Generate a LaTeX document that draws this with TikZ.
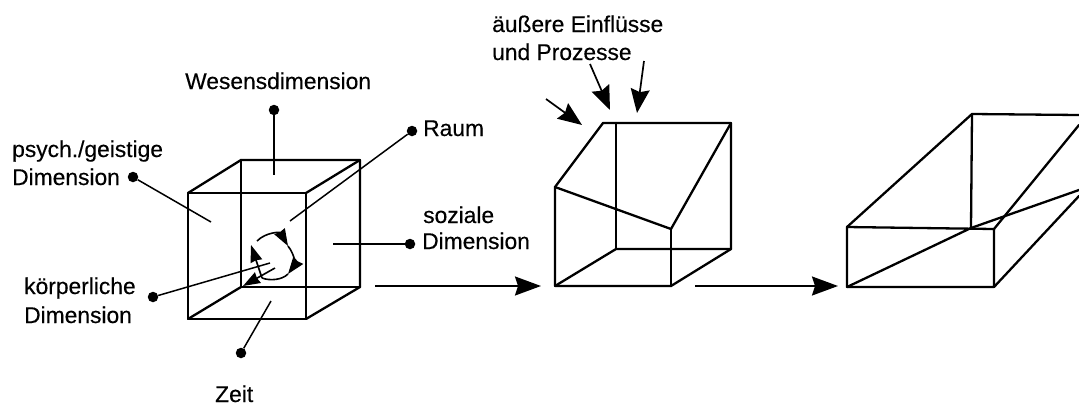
\documentclass[tikz,border=0pt]{standalone}
\usepackage{fontspec}
\setmainfont{Liberation Sans}[FakeBold=0.35]
\usetikzlibrary{arrows.meta}
\tikzset{
  lbl/.style={anchor=base west,inner sep=0pt,font=\fontsize{22.8}{27}\selectfont},
  edge/.style={line width=2.3pt,line join=round,line cap=round},
  leader/.style={line width=1.5pt},
  dotpt/.style={circle,fill=black,inner sep=0pt,minimum size=10.5pt},
  bigarrow/.style={line width=1.8pt,-{Stealth[length=26pt,width=19pt,inset=3pt]}},
  midarrow/.style={line width=1.7pt,-{Stealth[length=24pt,width=19pt,inset=3pt]}},
  smallhead/.style={line width=1.6pt,-{Stealth[length=17pt,width=12pt,inset=1pt]}}
}
\begin{document}
\begin{tikzpicture}[x=1pt,y=-1pt]
\useasboundingbox (0,0) rectangle (1079,405);
\clip (0,0) rectangle (1079,405);
% labels
\node[lbl] (tw) at (185,89) {Wesensdimension};
\node[lbl] (tp1) at (12,157) {psych./geistige};
\node[lbl] (tp2) at (12,185) {Dimension};
\node[lbl] (tr) at (423,136) {Raum};
\node[lbl] (ts1) at (423,223) {soziale};
\node[lbl] (ts2) at (422,249) {Dimension};
\node[lbl] (tk1) at (24,294) {körperliche};
\node[lbl] (tk2) at (24,323) {Dimension};
\node[lbl] (tz) at (215,402) {Zeit};
\node[lbl] (te1) at (492,32) {äußere Einflüsse};
\node[lbl] (te2) at (492,60) {und Prozesse};
% cube 1
\coordinate (a1) at (188,193); \coordinate (a2) at (306,193);
\coordinate (a3) at (306,319); \coordinate (a4) at (188,319);
\coordinate (b1) at (241,160); \coordinate (b2) at (360,160);
\coordinate (b3) at (360,287); \coordinate (b4) at (241,287);
\draw[edge] (a1) -- (a2) -- (a3) -- (a4) -- cycle;
\draw[edge] (a1) -- (b1) -- (b2) -- (b3) -- (a3);
\draw[edge] (a2) -- (b2);
\draw[edge] (b1) -- (b4) -- (b3);
\draw[edge] (a4) -- (b4);
% leaders
\node[dotpt] (dw) at (274,110) {}; \coordinate (ew) at (274,175);
\node[dotpt] (dr) at (412,131) {}; \coordinate (er) at (290,221);
\node[dotpt] (dp) at (133,177) {}; \coordinate (ep) at (211,222);
\node[dotpt] (ds) at (410,244) {}; \coordinate (es) at (333,244);
\node[dotpt] (dk) at (153,297) {}; \coordinate (ek) at (270,263);
\node[dotpt] (dz) at (241,353) {}; \coordinate (ez) at (271,301);
\draw[leader] (dw) -- (ew);
\draw[leader] (dr) -- (er);
\draw[leader] (dp) -- (ep);
\draw[leader] (ds) -- (es);
\draw[leader] (dk) -- (ek);
\draw[leader] (dz) -- (ez);
% rotating arrows
\coordinate (c0) at (257,241); \coordinate (c1) at (288,246);
\coordinate (c2) at (288,274); \coordinate (c3) at (262,278);
\coordinate (c4) at (251,245); \coordinate (c5) at (275,268); \coordinate (c6) at (243,286);
\draw[smallhead] (c0) .. controls (266,232) and (280,232) .. (c1);
\draw[smallhead] (c1) .. controls (296,256) and (294,266) .. (c2);
\draw[line width=1.6pt] (c2) .. controls (282,280) and (270,281) .. (c3);
\draw[smallhead] (c3) -- (c4);
\draw[smallhead] (c5) -- (c6);
% cube 2
\coordinate (p1) at (555,187); \coordinate (p2) at (603,123);
\coordinate (p3) at (731,123); \coordinate (p4) at (731,249);
\coordinate (p5) at (671,286); \coordinate (p6) at (555,286);
\coordinate (p7) at (671,229); \coordinate (p8) at (616,123);
\coordinate (p9) at (616,249);
\draw[edge] (p1) -- (p2) -- (p3) -- (p4) -- (p5) -- (p6) -- cycle;
\draw[edge] (p1) -- (p7) -- (p3);
\draw[edge] (p7) -- (p5);
\draw[edge] (p8) -- (p9);
\draw[edge] (p6) -- (p9) -- (p4);
% influence arrows
\coordinate (i1s) at (546,99); \coordinate (i1e) at (582,125);
\coordinate (i2s) at (590,64); \coordinate (i2e) at (610,110);
\coordinate (i3s) at (644,61); \coordinate (i3e) at (637,113);
\draw[midarrow] (i1s) -- (i1e);
\draw[midarrow] (i2s) -- (i2e);
\draw[midarrow] (i3s) -- (i3e);
% process arrows
\coordinate (m1s) at (375,286); \coordinate (m1e) at (541,286);
\coordinate (m2s) at (695,286); \coordinate (m2e) at (838,286);
\draw[bigarrow] (m1s) -- (m1e);
\draw[bigarrow] (m2s) -- (m2e);
% cube 3
\coordinate (q1) at (847,227); \coordinate (q2) at (994,229);
\coordinate (q3) at (994,287); \coordinate (q4) at (847,287);
\coordinate (q5) at (972,114); \coordinate (q6) at (1079,115);
\coordinate (q7) at (971,228); \coordinate (q8) at (1079,125);
\coordinate (q9) at (1079,190); \coordinate (q10) at (1079,196);
\draw[edge] (q1) -- (q2) -- (q3) -- (q4) -- cycle;
\draw[edge] (q1) -- (q5) -- (q6);
\draw[edge] (q5) -- (q7);
\draw[edge] (q2) -- (q8);
\draw[edge] (q4) -- (q7) -- (q9);
\draw[edge] (q3) -- (q10);
\end{tikzpicture}
\end{document}
